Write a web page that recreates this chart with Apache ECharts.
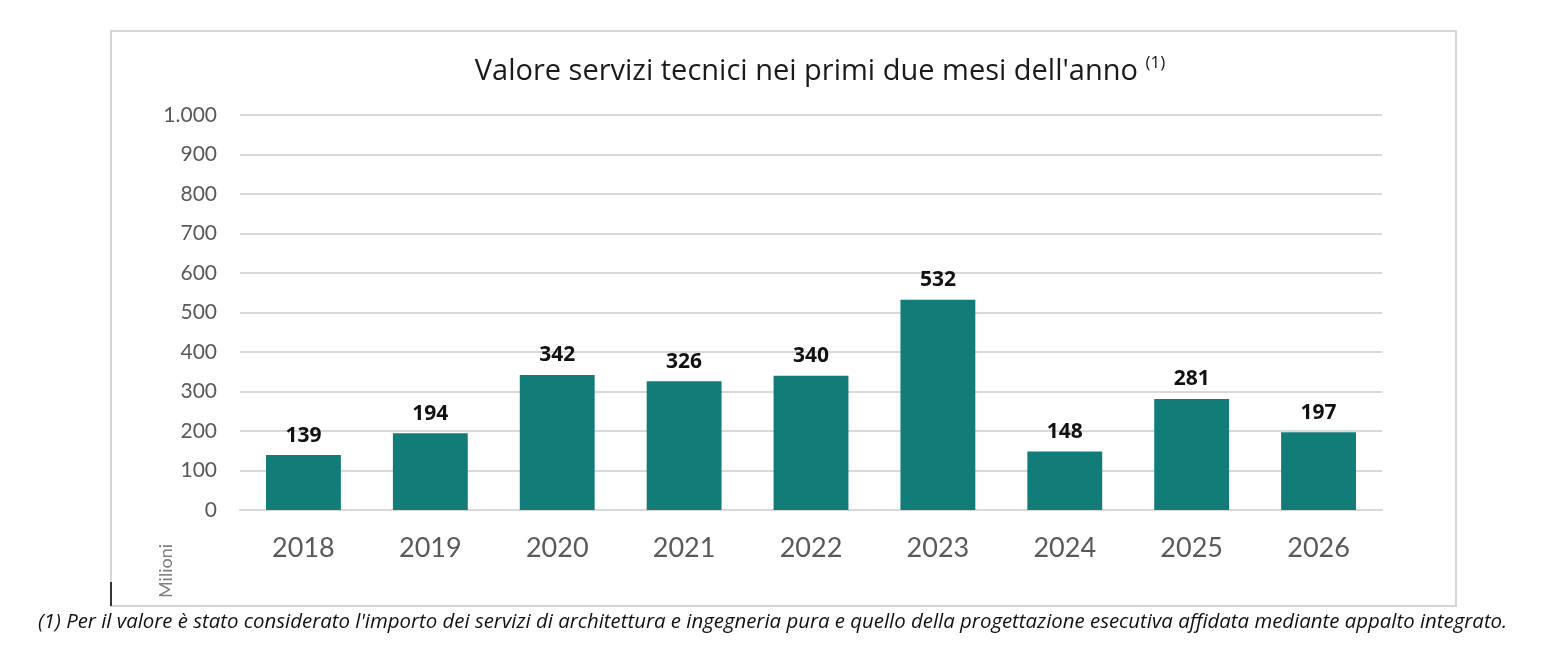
<!DOCTYPE html>
<html><head><meta charset="utf-8">
<script src="https://cdn.jsdelivr.net/npm/echarts@6/dist/echarts.min.js"></script>
<style>html,body{margin:0;padding:0;background:#fff}#c{width:1568px;height:658px}</style>
</head><body><div id="c"></div>
<script>
const categories = ['2018','2019','2020','2021','2022','2023','2024','2025','2026'];
const values = [139,194,342,326,340,532,148,281,197];
const yTicks = [0,100,200,300,400,500,600,700,800,900,1000];
const titleText = "Valore servizi tecnici nei primi due mesi dell'anno";
const unitText = 'Milioni';
const footnote = "(1) Per il valore è stato considerato l'importo dei servizi di architettura e ingegneria pura e quello della progettazione esecutiva affidata mediante appalto integrato.";

const chart = echarts.init(document.getElementById('c'));
const font = 'Lato, "Open Sans", sans-serif';
const osans = '"Open Sans", sans-serif';
chart.setOption({
  animation:false,
  backgroundColor:'#fff',
  title:{
    text: titleText + ' {sup|(1)}',
    left: 815, top: 50, textAlign:'center',
    textStyle:{fontFamily:osans, fontSize:29, fontWeight:'normal', color:'#1a1a1a',
      rich:{sup:{fontSize:17, verticalAlign:'top', padding:[0,0,16,0], color:'#1a1a1a', fontFamily:osans}}}
  },
  grid:{left:240, right:186, top:115, bottom:148},
  xAxis:{type:'category', data:categories,
    axisLine:{show:true, lineStyle:{color:'#d9d9d9', width:2}},
    axisTick:{show:false},
    axisLabel:{fontFamily:font, fontSize:27, color:'#595959', margin:25}
  },
  yAxis:{type:'value', min:yTicks[0], max:yTicks[yTicks.length-1], interval:100,
    axisLine:{show:false}, axisTick:{show:false},
    splitLine:{lineStyle:{color:'#d9d9d9', width:2}},
    axisLabel:{fontFamily:font, fontSize:21, color:'#595959', margin:23,
      formatter: v => v >= 1000 ? (v/1000)+'.'+String(v%1000).padStart(3,'0') : String(v)}
  },
  series:[{type:'bar', data:values, barWidth:'59%',
    itemStyle:{color:'#127c78'},
    label:{show:true, position:'top', distance:9, fontFamily:osans, fontSize:21, fontWeight:'bold', color:'#111'}
  }],
  graphic:[
    {type:'rect', shape:{x:111, y:31, width:1345, height:575}, style:{fill:'none', stroke:'#d6d6d6', lineWidth:2}, silent:true, z:-1},
    {type:'line', shape:{x1:111, y1:582, x2:111, y2:606}, style:{stroke:'#000', lineWidth:1.5}},
    {type:'text', x:166, y:571, rotation:Math.PI/2, style:{text:unitText, fontFamily:font, fontSize:18, fill:'#7f7f7f', align:'center', verticalAlign:'middle'}},
    {type:'text', x:38, y:622, style:{text:footnote, fontFamily:osans, fontSize:20.4, fontStyle:'italic', fill:'#111', verticalAlign:'middle'}}
  ]
});
</script></body></html>
